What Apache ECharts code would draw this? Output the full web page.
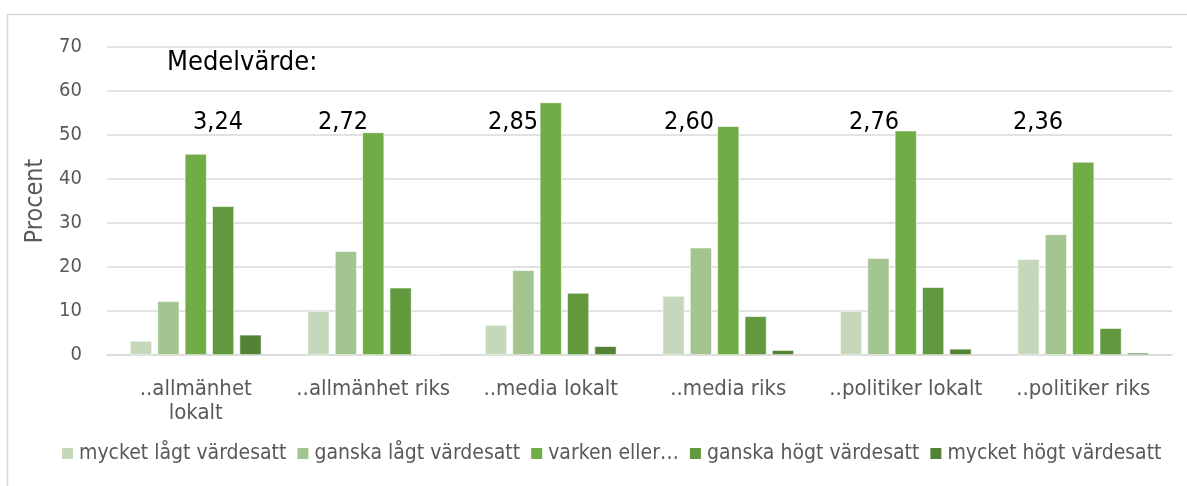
<!DOCTYPE html>
<html>
<head>
<meta charset="utf-8">
<script src="https://cdn.jsdelivr.net/npm/echarts@6/dist/echarts.min.js"></script>
<style>
  html, body { margin: 0; padding: 0; background: #fff; }
  #main { width: 1187px; height: 486px; }
</style>
</head>
<body>
<div id="main"></div>
<script>
// categories and series values (procent)
var categories = ['..allmänhet\nlokalt', '..allmänhet riks', '..media lokalt', '..media riks', '..politiker lokalt', '..politiker riks'];
var seriesNames = ['mycket lågt värdesatt', 'ganska lågt värdesatt', 'varken eller…', 'ganska högt värdesatt', 'mycket högt värdesatt'];
var mycketLagt = [3.2, 10.0, 6.8, 13.4, 10.0, 21.8];
var ganskaLagt = [12.2, 23.6, 19.3, 24.4, 22.0, 27.4];
var varkenEller = [45.7, 50.6, 57.4, 52.0, 51.0, 43.9];
var ganskaHogt = [33.8, 15.3, 14.1, 8.8, 15.4, 6.1];
var mycketHogt = [4.6, 0.2, 2.0, 1.1, 1.4, 0.5];
var medelvarden = ['3,24', '2,72', '2,85', '2,60', '2,76', '2,36'];

var colors = ['#c5d8bb', '#a4c590', '#70ad47', '#62993e', '#548235'];
var font = '"DejaVu Sans Condensed", "Liberation Sans Narrow", sans-serif';
var seriesData = [mycketLagt, ganskaLagt, varkenEller, ganskaHogt, mycketHogt];

var series = seriesNames.map(function (name, i) {
  return {
    name: name,
    type: 'bar',
    data: seriesData[i],
    barGap: '25%',
    barCategoryGap: '26%',
    itemStyle: { color: colors[i], borderColor: '#ffffff', borderWidth: 0.6 }
  };
});

// free-floating text boxes for the mean values
var meanX = [193, 318, 488, 664, 849, 1013];
var graphics = [
  { type: 'rect', shape: { x: 7.5, y: 14.5, width: 1300, height: 600 }, style: { fill: 'none', stroke: '#d9d9d9', lineWidth: 1.5 }, silent: true },
  { type: 'text', left: 167, top: 49, style: { text: 'Medelvärde:', font: '27px ' + font, fill: '#000' } }
];
medelvarden.forEach(function (m, i) {
  graphics.push({ type: 'text', left: meanX[i], top: 110, style: { text: m, font: '25px ' + font, fill: '#000' } });
});

var option = {
  backgroundColor: '#fff',
  animation: false,
  grid: { left: 107, right: 15, top: 47, bottom: 131 },
  legend: {
    bottom: 17,
    left: 55,
    itemWidth: 13,
    itemHeight: 13,
    itemGap: 9,
    icon: 'rect',
    textStyle: { fontFamily: font, fontSize: 21, color: '#595959' },
    data: seriesNames
  },
  xAxis: {
    type: 'category',
    data: categories,
    axisLine: { lineStyle: { color: '#d9d9d9', width: 1.5 } },
    axisTick: { show: false },
    axisLabel: { fontFamily: font, fontSize: 22, color: '#595959', margin: 22, lineHeight: 24, interval: 0 }
  },
  yAxis: {
    type: 'value',
    min: 0,
    max: 70,
    interval: 10,
    name: 'Procent',
    nameLocation: 'middle',
    nameGap: 58,
    nameTextStyle: { fontFamily: font, fontSize: 25, color: '#595959' },
    axisLine: { show: false },
    axisTick: { show: false },
    axisLabel: { fontFamily: font, fontSize: 20, color: '#595959', margin: 25 },
    splitLine: { lineStyle: { color: '#d9d9d9', width: 1.5 } }
  },
  graphic: graphics,
  series: series
};

var chart = echarts.init(document.getElementById('main'));
chart.setOption(option);
</script>
</body>
</html>
